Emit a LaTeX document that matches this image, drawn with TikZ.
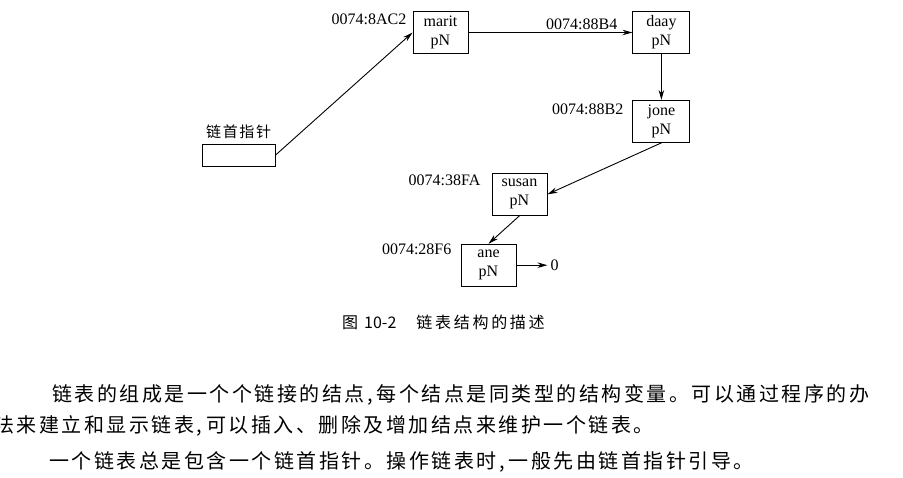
\documentclass[tikz,border=0pt]{standalone}
\usepackage{fontspec}
\setmainfont{Liberation Serif}
\newfontfamily\cjkplain{Noto Sans CJK SC}
\newfontfamily\cjkbody[LetterSpace=12.5]{Noto Sans CJK SC}
\newfontfamily\cjkcap[LetterSpace=17]{Noto Sans CJK SC}
\newfontfamily\cjklabel[LetterSpace=11]{Noto Sans CJK SC}
\usetikzlibrary{arrows.meta, positioning}
\tikzstyle{listnode} = [rectangle, draw, line width=0.9pt, minimum width=55pt, minimum height=42pt, inner sep=1pt, align=center, font=\fontsize{16}{19}\selectfont]
\tikzstyle{headbox} = [rectangle, draw, line width=0.9pt, minimum width=73pt, minimum height=22pt, inner sep=0pt]
\tikzstyle{addr} = [anchor=east, inner sep=0pt, font=\fontsize{16}{19}\selectfont]
\tikzstyle{arrow} = [line width=0.9pt, -{Stealth[length=10pt, width=5.5pt]}]
\tikzstyle{bodyline} = [anchor=base west, inner sep=0pt, font=\fontsize{20}{23}\cjkbody]

\begin{document}
\begin{tikzpicture}[x=1pt, y=-1pt, node distance=30pt]
    \useasboundingbox (0,0) rectangle (903,477);

    % list nodes
    \node (head) [headbox] at (238.7,155) {};
    \node (headlabel) [anchor=base west, inner sep=0pt, font=\fontsize{15}{18}\cjklabel] at (206,137.5) {链首指针};
    \node (marit) [listnode] at (440.5,32.5) {marit\\pN};
    \node (daay) [listnode, minimum width=57pt, right=164pt of marit] {daay\\pN};
    \node (jone) [listnode, minimum width=57pt, below=46pt of daay] {jone\\pN};
    \node (susan) [listnode, below left=30pt and 85pt of jone] {susan\\pN};
    \node (ane) [listnode, below=28pt of susan, xshift=-31pt] {ane\\pN};
    \node (zero) [inner sep=3pt, font=\fontsize{16}{19}\selectfont, right=31pt of ane] {0};

    % addresses
    \node (amarit) [addr] at ([xshift=-6pt, yshift=-8pt]marit.north west) {0074:8AC2};
    \node (adaay) [addr] at ([xshift=-15pt, yshift=-13pt]daay.north west) {0074:88B4};
    \node (ajone) [addr] at ([xshift=-9pt, yshift=-9pt]jone.north west) {0074:88B2};
    \node (asusan) [addr] at ([xshift=-11pt, yshift=-7pt]susan.north west) {0074:38FA};
    \node (aane) [addr] at ([xshift=-9pt, yshift=-6pt]ane.north west) {0074:28F6};

    \draw [arrow] (head.east) -- (marit.west);
    \draw [arrow] (marit.east) -- (daay.west);
    \draw [arrow] (daay.south) -- (jone.north);
    \draw [arrow] (jone.south) -- (susan.east);
    \draw [arrow] (susan.south) -- (ane.north);
    \draw [arrow] (ane.east) -- (zero.west);

    % caption and text
    \node (caption) [anchor=base west, inner sep=0pt, font=\fontsize{16}{19}\cjkcap] at (342,328) {图\hspace{6pt}{\cjkplain 10-2}\hspace{20pt}链表结构的描述};
    \node (line1) [bodyline] at (52,401) {链表的组成是一个个链接的结点,\hspace{4pt}每个结点是同类型的结构变量。可以通过程序的办};
    \node (line2) [bodyline] at (-6,432) {法来建立和显示链表,\hspace{4pt}可以插入、删除及增加结点来维护一个链表。};
    \node (line3) [bodyline] at (49,468) {一个链表总是包含一个链首指针。操作链表时,\hspace{4pt}一般先由链首指针引导。};
\end{tikzpicture}
\end{document}
